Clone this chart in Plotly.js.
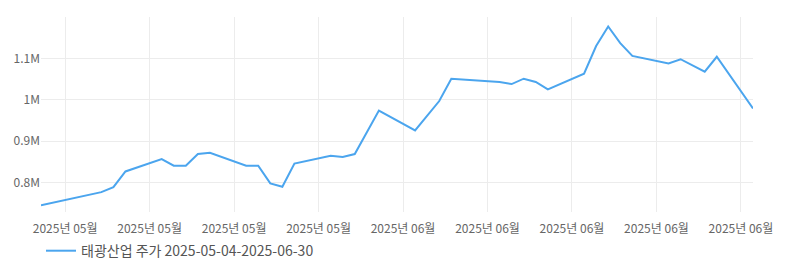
<!DOCTYPE html>
<html>
<head>
<meta charset="utf-8">
<script src="https://cdn.plot.ly/plotly-3.0.1.min.js"></script>
<style>html,body{margin:0;padding:0;background:#fff;}#chart{width:800px;height:270px;}</style>
</head>
<body>
<div id="chart"></div>
<script>
const dates = ['2025-05-02','2025-05-07','2025-05-08','2025-05-09','2025-05-12','2025-05-13','2025-05-14','2025-05-15','2025-05-16',
  '2025-05-19','2025-05-20','2025-05-21','2025-05-22','2025-05-23','2025-05-26','2025-05-27','2025-05-28','2025-05-29','2025-05-30',
  '2025-06-02','2025-06-04','2025-06-05','2025-06-09','2025-06-10','2025-06-11','2025-06-12','2025-06-13',
  '2025-06-16','2025-06-17','2025-06-18','2025-06-19','2025-06-20','2025-06-23','2025-06-24','2025-06-25','2025-06-26','2025-06-27','2025-06-30'];
const prices = [745000,777000,789000,827000,857000,841000,841000,869000,872000,
  841000,841000,798000,790000,846000,865000,862000,869000,923000,974000,
  926000,997000,1051000,1043000,1038000,1051000,1043000,1025000,
  1063000,1130000,1177000,1137000,1106000,1088000,1098000,1084000,1068000,1104000,979000];
const seriesName = '태광산업 주가 2025-05-04-2025-06-30';
const yTickVals = [800000, 900000, 1000000, 1100000];
const yTickText = ['0.8M', '0.9M', '1M', '1.1M'];

const font = '"Noto Sans CJK KR", "Noto Sans", sans-serif';
Plotly.newPlot('chart', [{
  x: dates, y: prices, type: 'scatter', mode: 'lines', name: seriesName,
  line: {color: '#4ba5ee', width: 2}
}], {
  width: 800, height: 270,
  margin: {l: 41, r: 47, t: 17, b: 58, autoexpand: false},
  paper_bgcolor: '#fff', plot_bgcolor: '#fff',
  font: {family: font, size: 12, color: '#666'},
  showlegend: true,
  legend: {orientation: 'h', x: 0, xanchor: 'left', yref: 'container', y: 0.07, yanchor: 'middle',
    font: {family: font, size: 14, color: '#555'}},
  xaxis: {type: 'date', range: ['2025-05-02', '2025-06-30'], tick0: '2025-05-04', dtick: 604800000,
    tickformat: '%Y년 %m월', showgrid: true, gridcolor: '#ececec', zeroline: false, showline: false,
    ticks: 'outside', ticklen: 6, tickcolor: 'rgba(0,0,0,0)', tickfont: {size: 12, color: '#666'}},
  yaxis: {range: [729000, 1200000], tickvals: yTickVals, ticktext: yTickText,
    showgrid: true, gridcolor: '#ececec', zeroline: false, showline: false, ticks: '',
    tickfont: {size: 12, color: '#666'}}
}, {displayModeBar: false, staticPlot: true});
</script>
</body>
</html>
